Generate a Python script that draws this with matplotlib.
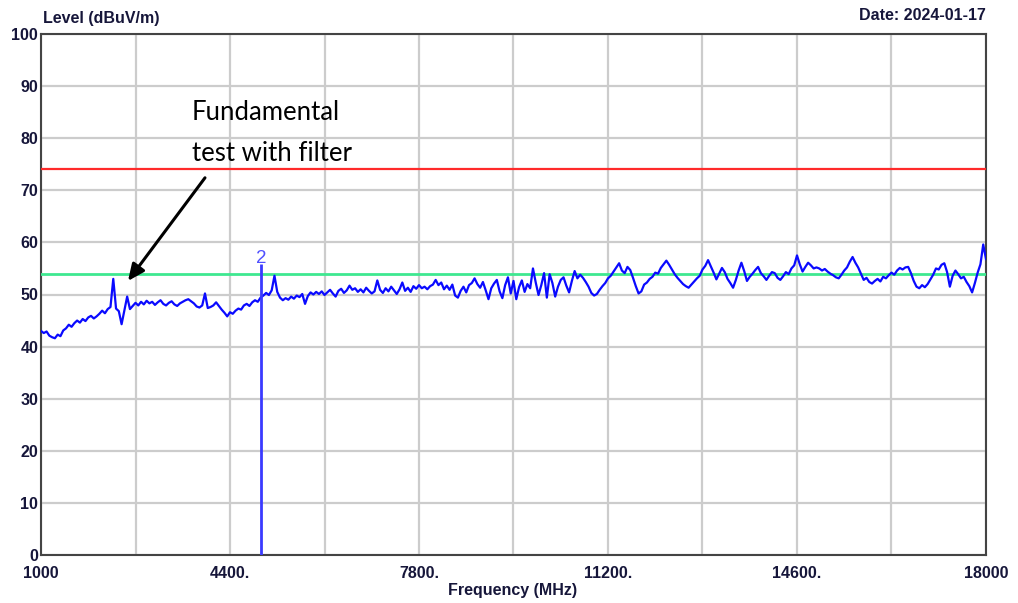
#!/usr/bin/env python3
"""
Radiated emission scan, 1-18 GHz: level vs frequency with limit lines.
"""
import numpy as np
import matplotlib
matplotlib.use("Agg")
import matplotlib.pyplot as plt
from matplotlib.font_manager import FontProperties

# Sweep: 1000 - 18000 MHz, one reading every 50 MHz
f_start = 1000
f_stop = 18000
f_step = 50

# Level readings in dBuV/m, one row per 1000 MHz (20 readings each)
level = [
    # 1000 - 1950
    43.0, 42.6, 42.9, 42.1, 41.8, 41.6, 42.3, 42.0, 43.1, 43.5,
    44.2, 43.8, 44.5, 45.0, 44.6, 45.3, 44.9, 45.6, 45.9, 45.4,
    # 2000 - 2950
    45.8, 46.3, 46.9, 46.4, 47.2, 47.6, 53.0, 47.3, 46.8, 44.3,
    47.0, 49.6, 47.2, 47.8, 48.4, 47.9, 48.6, 48.1, 48.8, 48.3,
    # 3000 - 3950
    48.6, 48.0, 48.5, 48.9, 48.2, 47.9, 48.4, 48.7, 48.1, 47.8,
    48.3, 48.6, 48.9, 49.1, 48.7, 48.3, 47.7, 47.5, 47.9, 50.2,
    # 4000 - 4950
    47.4, 47.6, 47.9, 48.5, 47.8, 47.1, 46.5, 45.8, 46.6, 46.3,
    46.9, 47.3, 47.1, 47.9, 48.2, 47.8, 48.5, 48.9, 48.6, 49.4,
    # 5000 - 5950
    49.8, 50.3, 49.9, 50.8, 53.6, 50.5, 49.4, 48.9, 49.3, 49.0,
    49.6, 49.2, 49.8, 49.5, 50.1, 48.2, 49.7, 50.4, 50.0, 50.5,
    # 6000 - 6950
    50.1, 50.6, 49.9, 50.4, 50.9, 50.2, 49.6, 50.7, 51.1, 50.3,
    50.8, 51.7, 50.9, 51.2, 50.5, 51.0, 50.4, 51.3, 50.7, 50.2,
    # 7000 - 7950
    50.6, 52.7, 50.9, 50.3, 51.2, 50.6, 51.5, 50.8, 50.1, 51.0,
    52.3, 50.7, 51.3, 50.5, 51.6, 51.1, 51.8, 51.2, 51.5, 51.0,
    # 8000 - 8950
    51.6, 51.9, 52.8, 51.8, 52.3, 51.0, 51.7, 50.9, 51.9, 49.8,
    49.4, 50.7, 51.5, 50.4, 51.8, 52.2, 53.1, 52.0, 51.3, 52.4,
    # 9000 - 9950
    50.8, 49.1, 51.2, 52.1, 52.8, 50.6, 49.3, 51.8, 53.3, 50.2,
    52.6, 49.1, 51.4, 52.7, 50.5, 52.0, 51.2, 55.0, 52.3, 49.9,
    # 10000 - 10950
    51.8, 54.1, 49.4, 53.9, 52.2, 49.6, 51.5, 52.8, 53.3, 51.7,
    50.4, 52.6, 54.5, 53.1, 53.8, 53.2, 52.4, 51.5, 50.3, 49.8,
    # 11000 - 11950
    50.1, 50.9, 51.6, 52.2, 53.1, 53.6, 54.4, 55.2, 56.0, 54.6,
    54.1, 55.3, 54.7, 53.2, 51.6, 50.2, 50.6, 51.9, 52.3, 53.0,
    # 12000 - 12950
    53.4, 54.2, 54.0, 55.1, 55.8, 56.5, 55.7, 54.8, 53.9, 53.2,
    52.6, 52.0, 51.6, 51.3, 51.9, 52.5, 53.1, 53.6, 54.8, 55.5,
    # 13000 - 13950
    56.6, 55.4, 54.2, 52.9, 54.0, 55.1, 54.3, 53.0, 52.2, 51.3,
    52.8, 54.6, 56.1, 54.5, 52.6, 53.4, 54.0, 54.7, 55.3, 54.1,
    # 14000 - 14950
    53.5, 52.8, 53.6, 54.3, 54.1, 53.2, 52.8, 53.5, 54.3, 53.9,
    55.0, 55.6, 57.5, 55.8, 54.4, 55.3, 56.1, 55.6, 55.0, 55.2,
    # 15000 - 15950
    55.0, 54.6, 54.9, 54.4, 54.0, 53.7, 53.3, 53.1, 53.8, 54.6,
    55.2, 56.3, 57.2, 56.1, 55.2, 54.0, 52.8, 53.2, 52.4, 52.1,
    # 16000 - 16950
    52.6, 53.0, 52.5, 53.4, 53.1, 53.7, 54.2, 53.8, 54.6, 55.1,
    54.8, 55.2, 55.3, 54.1, 52.6, 51.5, 51.2, 51.8, 51.4, 52.0,
    # 17000 - 18000
    52.9, 53.8, 55.0, 54.8, 55.7, 56.0, 54.3, 51.5, 53.6, 54.6,
    53.9, 53.1, 53.4, 52.4, 51.6, 50.4, 52.2, 54.2, 55.8, 59.6,
    56.8,
]

# Limit lines (dBuV/m)
peak_limit = 74
avg_limit = 54

# Marker 2
marker_freq = 4960
marker_level = 55.8
marker_label = "2"

x_ticks = [1000, 2700, 4400, 6100, 7800, 9500, 11200, 12900, 14600, 16300, 18000]
x_tick_labels = ["1000", "", "4400.", "", "7800.", "", "11200.", "", "14600.", "", "18000"]
y_ticks = list(range(0, 101, 10))

freq = np.arange(f_start, f_stop + f_step, f_step)

W, H = 1018, 603
fig = plt.figure(figsize=(W / 100, H / 100), dpi=100)
ax = fig.add_axes([41 / W, (H - 555) / H, 945 / W, 521 / H])

txt_color = "#16163a"
lab_font = dict(family="Liberation Sans", weight="bold", size=11.5, color=txt_color)

ax.plot(freq, level, color="#0a0aff", lw=1.6, zorder=4)
ax.axhline(peak_limit, color="#ff2a2a", lw=1.6, zorder=3)
ax.axhline(avg_limit, color="#3ee890", lw=2.0, zorder=3)

# marker
ax.vlines(marker_freq, 0, marker_level, color="#3a3aff", lw=2.0, zorder=5)
ax.text(marker_freq, marker_level - 0.6, marker_label, ha="center", va="bottom",
        color="#5050ff", fontsize=13.5, family="Liberation Sans", zorder=6)

ax.set_xlim(f_start, f_stop)
ax.set_ylim(0, 100)
ax.set_xticks(x_ticks)
ax.set_xticklabels(x_tick_labels)
ax.set_yticks(y_ticks)
ax.set_yticklabels([str(v) for v in y_ticks])
ax.tick_params(axis="x", length=0, pad=8)
ax.tick_params(axis="y", length=0, pad=2)
tick_fp = FontProperties(family="Liberation Sans", weight="bold", size=11.5)
for lbl in ax.get_xticklabels() + ax.get_yticklabels():
    lbl.set_fontproperties(tick_fp)
    lbl.set_color(txt_color)

ax.grid(True, color="#cccccc", lw=1.6)
ax.set_axisbelow(True)
for sp in ax.spines.values():
    sp.set_color("#444444")
    sp.set_linewidth(1.5)

# headers
fig.text(43 / W, 1 - 19 / H, "Level (dBuV/m)", ha="left", va="center", **lab_font)
fig.text(986 / W, 1 - 15 / H, "Date: 2024-01-17", ha="right", va="center", **lab_font)
fig.text(513 / W, 1 - 591 / H, "Frequency (MHz)", ha="center", va="center", **lab_font)

# annotation
note_font = dict(family="Lato", size=18.5, color="black")
fig.text(192 / W, 1 - 112 / H, "Fundamental", ha="left", va="center", **note_font)
fig.text(192 / W, 1 - 154 / H, "test with filter", ha="left", va="center", **note_font)
ax.annotate("", xy=(2565, 52.6), xytext=(3950, 72.4),
            arrowprops=dict(arrowstyle="-|>,head_length=1.0,head_width=0.45",
                            color="black", lw=2.2, shrinkA=0, shrinkB=0))

fig.savefig("out.png", dpi=100)
